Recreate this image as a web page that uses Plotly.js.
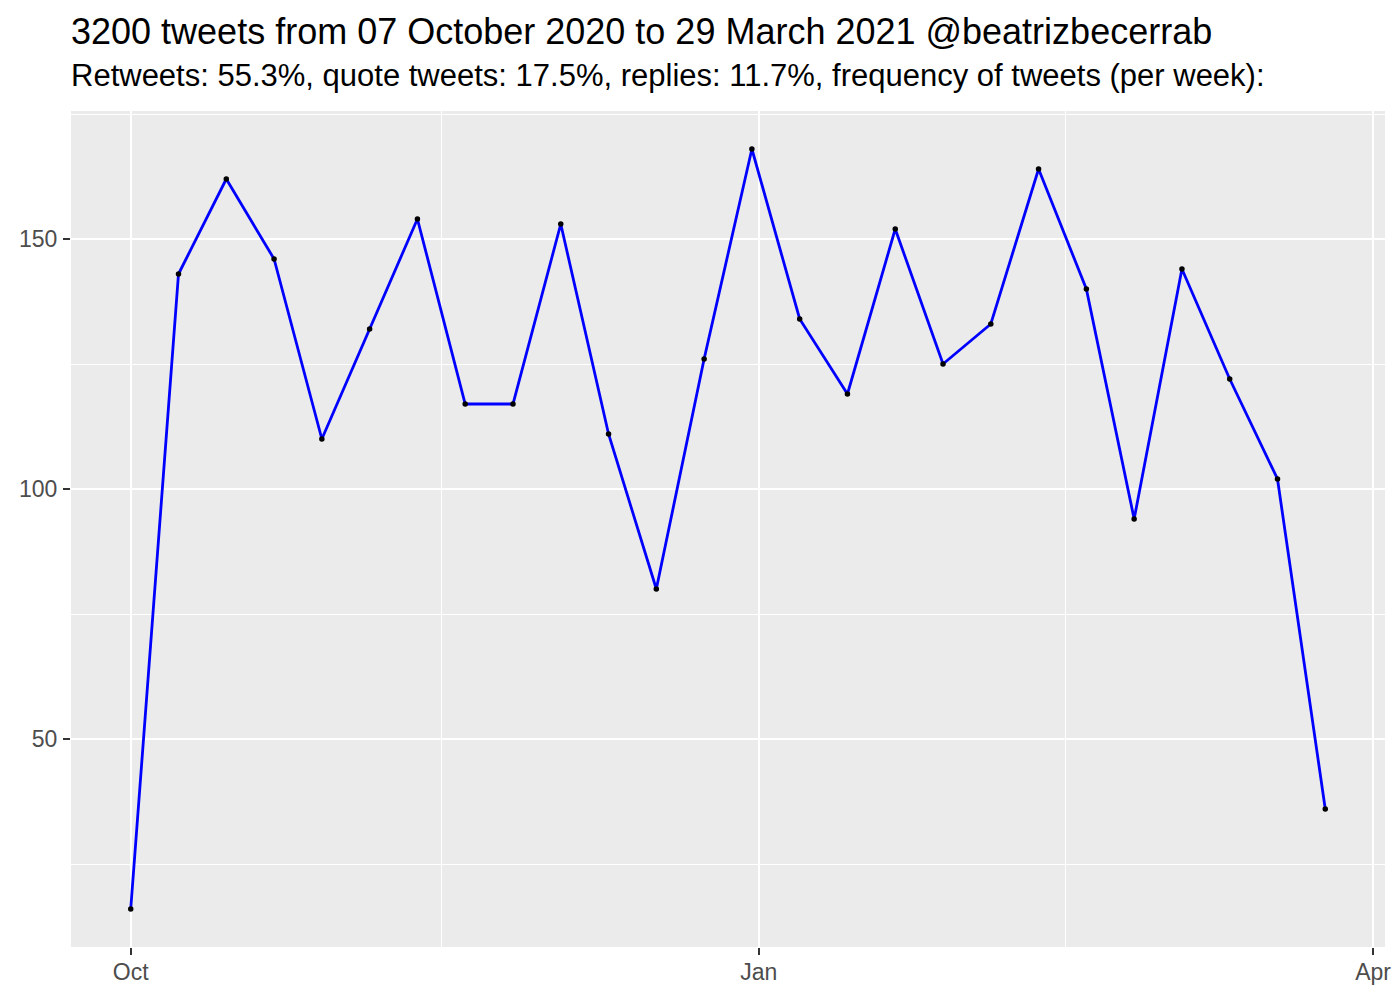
<!DOCTYPE html>
<html>
<head>
<meta charset="utf-8">
<script src="https://cdn.plot.ly/plotly-3.0.1.min.js"></script>
<style>body{margin:0;background:#fff;} #chart{width:1400px;height:1000px;}</style>
</head>
<body>
<div id="chart"></div>
<script>
const weeks = ["2020-10-01","2020-10-08","2020-10-15","2020-10-22","2020-10-29","2020-11-05","2020-11-12","2020-11-19","2020-11-26","2020-12-03","2020-12-10","2020-12-17","2020-12-24","2020-12-31","2021-01-07","2021-01-14","2021-01-21","2021-01-28","2021-02-04","2021-02-11","2021-02-18","2021-02-25","2021-03-04","2021-03-11","2021-03-18","2021-03-25"];
const counts = [16,143,162,146,110,132,154,117,117,153,111,80,126,168,134,119,152,125,133,164,140,94,144,122,102,36];
const xTickVals = ["2020-10-01","2021-01-01","2021-04-01"];
const xTickText = ["Oct","Jan","Apr"];
const xMinorVals = ["2020-11-15 12:00","2021-02-15"];
const yTickVals = [50,100,150];
const yMinorVals = [25,75,125,175];
const titleText = "3200 tweets from 07 October 2020 to 29 March 2021 @beatrizbecerrab";
const subtitleText = "Retweets: 55.3%, quote tweets: 17.5%, replies: 11.7%, frequency of tweets (per week):";

const font = "Liberation Sans, Arial, sans-serif";
const trace = {
  x: weeks, y: counts, type: "scatter", mode: "lines+markers",
  line: {color: "#0000ff", width: 2.8},
  marker: {color: "#000000", size: 5.5},
  hoverinfo: "x+y"
};
const layout = {
  width: 1400, height: 1000,
  paper_bgcolor: "#ffffff", plot_bgcolor: "#ebebeb",
  margin: {l: 71, r: 15, t: 111, b: 53},
  showlegend: false,
  font: {family: font, color: "#4d4d4d"},
  title: {text: titleText, x: 71/1400, xanchor: "left", xref: "container", y: 1 - 31/1000, yanchor: "middle",
          font: {family: font, size: 36, color: "#000000"}},
  annotations: [{text: subtitleText, xref: "paper", yref: "paper", x: 0, y: (947-76)/836,
                 xanchor: "left", yanchor: "middle", showarrow: false, xshift: -2,
                 font: {family: font, size: 31, color: "#000000"}}],
  xaxis: {
    type: "date",
    range: ["2020-09-22 06:00", "2021-04-02 18:00"],
    tickmode: "array", tickvals: xTickVals, ticktext: xTickText,
    showgrid: true, gridcolor: "#ffffff", gridwidth: 2,
    zeroline: false, showline: false,
    ticks: "outside", ticklen: 7, tickcolor: "#333333", tickwidth: 2,
    ticklabelstandoff: -3,
    tickfont: {family: font, size: 23, color: "#4d4d4d"},
    minor: {tickmode: "array", tickvals: xMinorVals, showgrid: true, gridcolor: "#ffffff", gridwidth: 1, ticklen: 0},
    fixedrange: true
  },
  yaxis: {
    range: [8.4, 175.6],
    tickmode: "array", tickvals: yTickVals,
    showgrid: true, gridcolor: "#ffffff", gridwidth: 2,
    zeroline: false, showline: false,
    ticks: "outside", ticklen: 7, tickcolor: "#333333", tickwidth: 2,
    ticklabelstandoff: 1,
    tickfont: {family: font, size: 23, color: "#4d4d4d"},
    minor: {tickmode: "array", tickvals: yMinorVals, showgrid: true, gridcolor: "#ffffff", gridwidth: 1, ticklen: 0},
    fixedrange: true
  }
};
Plotly.newPlot("chart", [trace], layout, {displayModeBar: false, staticPlot: true});
</script>
</body>
</html>
